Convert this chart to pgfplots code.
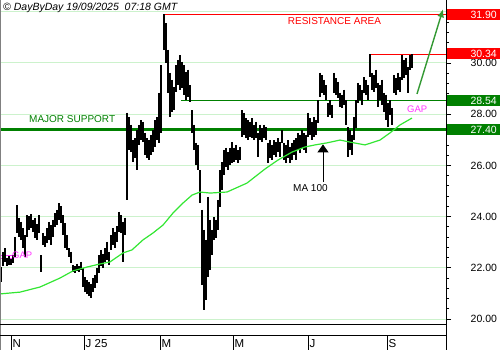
\documentclass[border=0pt]{standalone}
\usepackage{fontspec}
\setmainfont{Liberation Sans}
\usepackage{pgfplots}
\pgfplotsset{compat=1.18}
\usepackage{pgfplotstable}
\usetikzlibrary{arrows.meta}
\definecolor{gridg}{HTML}{CCF2CC}
\definecolor{supg}{HTML}{008000}
\definecolor{mag}{HTML}{33E633}
\definecolor{resred}{HTML}{FF0000}
\definecolor{gapm}{HTML}{FF33FF}
\definecolor{arrg}{HTML}{339933}

\pgfplotstableread{
x l h
1 21.45 22.03
3 22.07 22.62
5 22.23 22.77
7 22.07 22.38
9 22.11 22.46
11 22.11 22.34
13 22.19 22.50
15 22.42 23.20
17 23.36 24.45
19 23.20 23.95
21 23.09 23.79
23 22.77 23.55
25 22.42 23.28
27 23.20 24.06
29 23.48 24.02
31 23.55 24.10
33 23.40 23.87
35 23.16 23.95
37 23.09 23.71
39 23.36 24.06
41 21.84 22.50
43 22.89 23.36
45 22.81 23.24
47 22.97 23.55
49 23.09 23.79
51 22.89 23.67
53 23.20 23.87
55 23.59 24.14
57 23.67 24.26
59 23.87 24.53
61 23.75 24.41
63 23.28 24.06
65 22.77 23.75
67 22.70 23.28
69 22.42 22.77
71 22.19 22.62
73 21.84 22.11
75 21.80 22.07
77 21.88 22.15
79 21.84 22.07
81 21.91 22.23
83 21.25 21.99
85 21.05 21.64
87 20.98 21.52
89 20.90 21.45
91 20.82 21.37
93 21.05 21.60
95 21.21 21.72
97 21.41 21.99
99 21.80 22.50
101 22.07 22.70
103 21.99 22.54
105 22.23 22.77
107 22.30 23.01
109 22.11 22.62
111 22.70 23.28
113 22.89 23.55
115 22.77 23.40
117 23.01 23.63
119 23.40 24.18
121 23.36 24.06
123 22.23 23.79
125 23.28 23.95
127 24.65 28.05
129 26.60 27.89
131 26.52 27.58
133 26.13 26.99
135 26.29 27.07
137 25.82 27.38
139 26.80 27.58
141 26.99 27.77
143 26.91 27.70
145 26.41 27.27
147 26.29 27.07
149 26.21 26.99
151 26.41 27.19
153 26.52 27.38
155 26.72 27.77
157 26.99 27.89
159 26.88 28.83
161 27.27 29.92
164 30.51 31.91
166 30.00 31.56
168 28.83 30.51
170 27.89 29.61
172 28.09 29.34
174 28.16 29.06
176 28.87 29.92
178 29.14 30.12
180 28.95 30.31
182 29.02 30.04
184 28.75 29.92
186 28.55 29.65
188 28.67 29.73
190 28.48 29.14
192 27.27 28.16
194 26.60 27.58
196 26.02 26.88
198 25.82 26.80
200 24.53 25.82
202 21.33 24.26
204 20.35 23.48
206 20.74 23.09
208 21.64 24.77
210 21.91 23.87
212 22.50 23.48
214 23.09 23.98
216 23.16 23.87
218 23.48 24.65
220 24.38 25.82
222 25.04 26.13
224 25.63 26.60
226 25.94 26.68
228 25.82 26.52
230 26.02 26.68
232 26.09 26.91
234 26.13 26.68
236 26.21 26.80
238 26.09 26.60
240 26.21 26.72
242 27.11 28.16
244 27.19 28.05
246 27.07 27.85
248 26.99 27.77
250 27.11 27.70
252 27.07 27.85
254 26.99 27.58
256 27.07 27.70
258 26.33 27.27
260 26.99 27.58
262 26.91 27.46
264 27.07 27.58
266 26.99 27.50
268 26.09 26.88
270 26.29 26.99
272 26.21 26.80
274 26.41 26.99
276 26.33 26.91
278 26.52 27.07
280 26.33 26.91
282 26.88 27.38
284 26.21 26.88
286 26.09 26.80
288 26.29 26.99
290 26.09 26.72
292 26.21 26.88
294 26.41 26.99
296 26.21 27.07
298 26.60 27.27
300 26.48 27.19
302 26.68 27.38
304 26.60 27.27
306 26.48 27.19
308 27.11 28.05
310 27.19 27.85
312 26.99 27.70
314 27.11 27.89
316 27.19 27.77
318 27.66 28.55
320 28.67 29.61
322 28.83 29.53
324 28.75 29.34
326 28.55 29.14
328 27.89 28.44
330 27.97 28.55
332 27.85 28.36
334 28.83 29.61
336 28.75 29.41
338 28.63 29.26
340 28.28 28.83
342 28.24 28.75
344 28.36 28.95
346 27.58 28.55
348 26.33 27.50
350 26.60 27.38
352 26.41 27.19
354 26.99 27.89
356 27.46 28.55
358 28.44 29.22
360 28.55 29.14
362 28.36 28.95
364 28.83 29.45
366 28.75 29.34
368 28.55 29.14
370 29.45 30.35
372 28.95 29.61
374 28.87 29.53
376 29.02 29.73
378 28.28 29.22
380 28.55 29.14
382 28.36 29.34
384 28.09 28.83
386 27.77 28.75
388 27.50 28.44
390 27.97 28.55
392 27.58 28.24
394 28.83 29.53
396 28.75 29.41
398 28.95 29.61
400 28.87 29.45
402 29.34 30.31
404 29.41 30.12
406 29.53 30.20
408 28.83 29.84
410 29.73 30.31
412 29.80 30.35
}\bars

\pgfplotstableread{
x ma
0 20.98
20 21.05
40 21.25
60 21.60
73 21.88
87 22.03
100 22.15
110 22.23
123 22.58
132 22.70
143 23.09
153 23.36
163 23.67
173 24.14
183 24.53
192 24.84
200 24.96
210 24.92
227 24.96
247 25.31
265 25.86
278 26.21
292 26.52
305 26.72
315 26.80
327 26.88
340 26.99
350 26.91
365 26.80
380 26.99
390 27.27
400 27.58
412 27.85
}\mavals

\begin{document}
\begin{tikzpicture}
\path[use as bounding box] (0,0) rectangle (500pt,350pt);
\begin{axis}[
  at={(0pt,26pt)}, anchor=south west, scale only axis,
  width=446pt, height=324pt,
  xmin=0, xmax=446, ymin=19.805, ymax=32.461,
  axis line style={draw=none},
  xtick=\empty,
  ytick={20,22,24,26,28,30,32},
  yticklabels={20.00,22.00,24.00,26.00,28.00,30.00,{}},
  minor y tick num=4,
  ytick pos=right, yticklabel pos=right,
  tick align=outside, major tick length=5pt, minor tick length=3pt,
  tick style={black, line width=0.8pt},
  ymajorgrids, major grid style={gridg, line width=1pt},
  /pgf/number format/assume math mode=true,
  yticklabel style={anchor=east, xshift=49.5pt, font=\fontsize{10.5}{12}\selectfont},
]
% support / resistance lines
\addplot[supg, line width=3.5pt, forget plot] coordinates {(0,27.40) (446,27.40)};
\addplot[supg, line width=1.5pt, forget plot] coordinates {(181,28.54) (446,28.54)};
\addplot[resred, line width=1.6pt, forget plot] coordinates {(163,31.90) (446,31.90)};
\addplot[resred, line width=1pt, forget plot] coordinates {(370,30.34) (446,30.34)};
\addplot[gapm, line width=0.8pt, forget plot] coordinates {(0,22.48) (13,22.48)};
\addplot[gapm, line width=0.8pt, forget plot] coordinates {(0,22.38) (13,22.38)};
% price bars
\addplot[only marks, mark=none, mark size=0pt, mark options={draw=none, fill=none}, forget plot,
  error bars/.cd, y dir=minus, y explicit, error mark=none,
  error bar style={draw=black, line width=1.1pt}]
  table[x=x, y=h, y error minus expr={\thisrow{h}-\thisrow{l}}] {\bars};
% moving average
\addplot[mag, line width=1.2pt, forget plot] table[x=x, y=ma] {\mavals};
% arrows
\draw[arrg, line width=1.4pt, -{Latex[length=8pt,width=7pt]}] (axis cs:417,28.79) -- (axis cs:443,32.10);
\draw[black, line width=1pt, -{Triangle[length=8pt,width=11pt]}] (axis cs:323,25.35) -- (axis cs:323,26.82);
\end{axis}
% frame lines
\draw[gray, line width=1pt] (0.5pt,0) -- (0.5pt,350pt);
\draw[black, line width=1pt] (446.5pt,0) -- (446.5pt,350pt);
\draw[black, line width=1pt] (0,25.5pt) -- (446.5pt,25.5pt);
\draw[black, line width=1pt] (0,14.7pt) -- (446.5pt,14.7pt);
\foreach \mx/\ml in {11/N,84/J 25,160/M,233/M,308/J,387/S}{
  \draw[black, line width=1pt] (\mx pt,0) -- (\mx pt,14.7pt);
  \node[anchor=base west, inner sep=0pt, font=\fontsize{11.5}{13}\selectfont] at (\mx pt+1.5pt,2.5pt) {\ml};
}
% header and annotations
\node[anchor=base west, inner sep=0pt, font=\fontsize{10.5}{12}\selectfont\itshape] at (3pt,339.5pt) {© DayByDay 19/09/2025\ \ 07:18 GMT};
\node[anchor=base, inner sep=0pt, text=resred, font=\fontsize{10}{12}\selectfont] at (334.5pt,325.5pt) {RESISTANCE AREA};
\node[anchor=base west, inner sep=0pt, text=supg, font=\fontsize{10}{12}\selectfont] at (29pt,227pt) {MAJOR SUPPORT};
\node[anchor=base west, inner sep=0pt, text=gapm, font=\fontsize{9.5}{12}\selectfont] at (407pt,237pt) {GAP};
\node[anchor=base west, inner sep=0pt, text=gapm, font=\fontsize{9.5}{12}\selectfont] at (12pt,91pt) {GAP};
\node[anchor=base west, inner sep=0pt, font=\fontsize{10}{12}\selectfont] at (293pt,158pt) {MA 100};
% value boxes
\foreach \cy/\col/\txt in {335/resred/31.90, 296/resred/30.34, 249.5/supg/28.54, 220.5/supg/27.40}{
  \fill[\col] (447pt,\cy pt-5.5pt) rectangle (500pt,\cy pt+5.5pt);
  \node[anchor=east, text=white, inner sep=0pt, font=\fontsize{10.5}{12}\selectfont] at (497pt,\cy pt) {\txt};
}
\end{tikzpicture}
\end{document}
